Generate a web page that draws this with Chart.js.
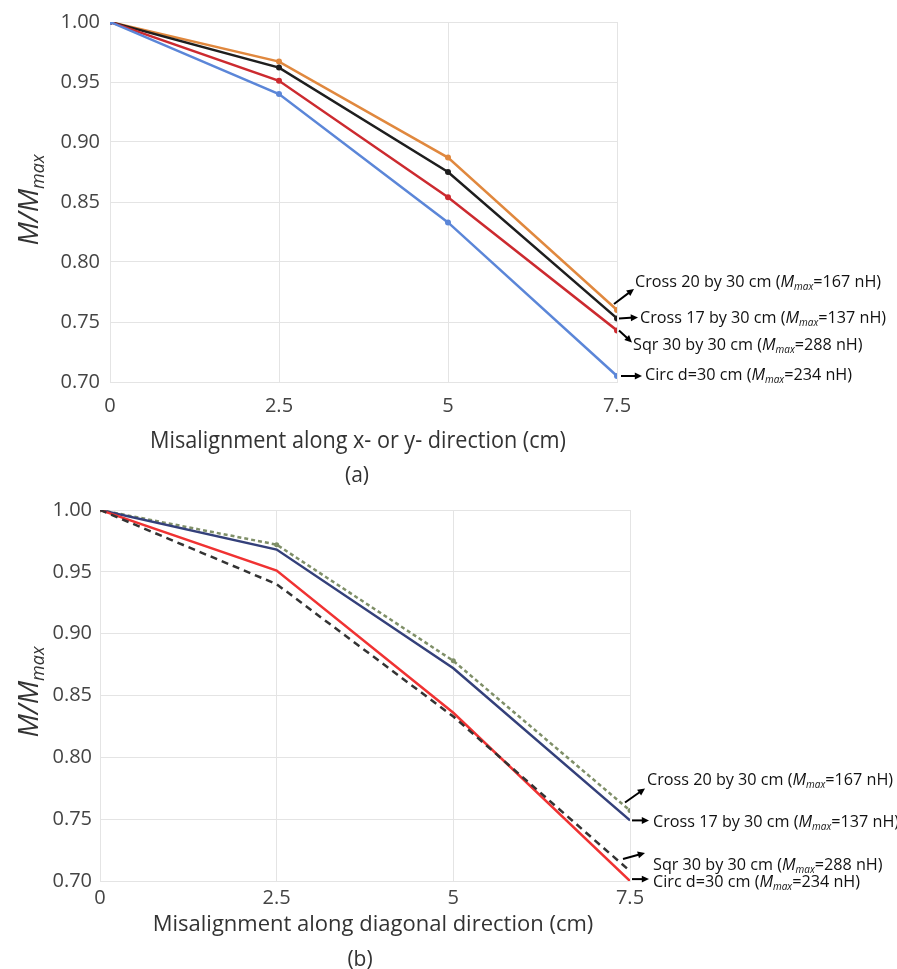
<!DOCTYPE html>
<html>
<head>
<meta charset="utf-8">
<script src="https://cdn.jsdelivr.net/npm/chart.js@4.4.0/dist/chart.umd.min.js"></script>
<style>
  html, body { margin: 0; padding: 0; background: #fff; }
  #wrapA { position: absolute; left: 0; top: 0; width: 897px; height: 490px; }
  #wrapB { position: absolute; left: 0; top: 490px; width: 897px; height: 479px; }
</style>
</head>
<body>
<div id="wrapA"><canvas id="graficoA" width="897" height="490"></canvas></div>
<div id="wrapB"><canvas id="graficoB" width="897" height="479"></canvas></div>
<script>
// ---------------- dados ----------------
const desalinhamento = [0, 2.5, 5, 7.5];
const yTicks = [0.70, 0.75, 0.80, 0.85, 0.90, 0.95, 1.00];

// (a) along x- or y- direction
const cross20A = [1.00, 0.967, 0.887, 0.760];
const cross17A = [1.00, 0.962, 0.875, 0.753];
const sqrA = [1.00, 0.951, 0.854, 0.743];
const circA = [1.00, 0.940, 0.833, 0.705];

// (b) along diagonal direction
const cross20B = [1.00, 0.972, 0.878, 0.757];
const cross17B = [1.00, 0.968, 0.872, 0.749];
const sqrB = [1.00, 0.951, 0.836, 0.700];
const circB = [1.00, 0.940, 0.833, 0.708];

const nomes = [
  ["Cross 20 by 30 cm (", "=167 nH)"],
  ["Cross 17 by 30 cm (", "=137 nH)"],
  ["Sqr 30 by 30 cm (", "=288 nH)"],
  ["Circ d=30 cm (", "=234 nH)"],
];

const FONT = "'Open Sans', 'DejaVu Sans', sans-serif";
const GRID = "#e4e4e4";

function pontos(arr) {
  return desalinhamento.map((x, i) => ({ x: x, y: arr[i] }));
}

// texto com M_max em itálico
function textoRico(ctx, partes, x, y, size) {
  ctx.save();
  ctx.translate(x, y);
  x = 0;
  ctx.textBaseline = "middle";
  ctx.textAlign = "left";
  ctx.fillStyle = "#111";
  ctx.font = `${size}px ${FONT}`;
  ctx.fillText(partes[0], x, 0);
  x += ctx.measureText(partes[0]).width;
  ctx.font = `italic ${size}px ${FONT}`;
  ctx.fillText("M", x, 0);
  x += ctx.measureText("M").width;
  ctx.font = `italic ${Math.round(size * 0.62)}px ${FONT}`;
  ctx.fillText("max", x, size * 0.3);
  x += ctx.measureText("max").width;
  ctx.font = `${size}px ${FONT}`;
  ctx.fillText(partes[1], x, 0);
  ctx.restore();
}

function seta(ctx, x1, y1, x2, y2) {
  const ang = Math.atan2(y2 - y1, x2 - x1);
  ctx.save();
  ctx.strokeStyle = "#000";
  ctx.fillStyle = "#000";
  ctx.lineWidth = 2;
  ctx.beginPath();
  ctx.moveTo(x1, y1);
  ctx.lineTo(x2 - 4 * Math.cos(ang), y2 - 4 * Math.sin(ang));
  ctx.stroke();
  ctx.beginPath();
  ctx.moveTo(x2, y2);
  ctx.lineTo(x2 - 8 * Math.cos(ang - 0.45), y2 - 8 * Math.sin(ang - 0.45));
  ctx.lineTo(x2 - 8 * Math.cos(ang + 0.45), y2 - 8 * Math.sin(ang + 0.45));
  ctx.closePath();
  ctx.fill();
  ctx.restore();
}

// plugin: titulos dos eixos, rotulos com setas
const anotacoes = {
  id: "anotacoes",
  afterDraw(chart, args, opts) {
    const ctx = chart.ctx;
    const xs = chart.scales.x;
    const ys = chart.scales.y;

    // titulo y
    ctx.save();
    ctx.translate(opts.yTitle.x, opts.yTitle.y);
    ctx.rotate(-Math.PI / 2);
    ctx.fillStyle = "#333";
    ctx.textBaseline = "middle";
    ctx.font = `italic 28px ${FONT}`;
    const w1 = ctx.measureText("M/M").width;
    ctx.font = `italic 18px ${FONT}`;
    const w2 = ctx.measureText("max").width;
    let sx = -(w1 + w2) / 2;
    ctx.font = `italic 28px ${FONT}`;
    ctx.fillText("M/M", sx, 0);
    ctx.font = `italic 18px ${FONT}`;
    ctx.fillText("max", sx + w1, 9);
    ctx.restore();

    // titulo x e letra
    ctx.save();
    ctx.fillStyle = "#333";
    ctx.textAlign = "center";
    ctx.textBaseline = "middle";
    ctx.font = `${opts.xTitle.size}px ${FONT}`;
    ctx.fillText(opts.xTitle.text, opts.xTitle.x, opts.xTitle.y, opts.xTitle.maxW);
    ctx.font = `21px ${FONT}`;
    ctx.fillText(opts.letra.text, opts.letra.x, opts.letra.y);
    ctx.restore();

    // rotulos
    opts.rotulos.forEach((r, i) => {
      const serie = chart.data.datasets[r.ds].data;
      const ult = serie[serie.length - 1];
      const px = xs.getPixelForValue(ult.x);
      const py = ys.getPixelForValue(ult.y);
      seta(ctx, px + r.a[0], py + r.a[1], px + r.a[2], py + r.a[3]);
      textoRico(ctx, nomes[i], r.tx, r.ty, 16.2);
    });
  },
};

function opcoesEixos(cfg) {
  return {
    x: {
      type: "linear",
      min: 0,
      max: 7.5,
      afterFit: (s) => { s.height = cfg.xHeight; },
      afterBuildTicks: (s) => { s.ticks = desalinhamento.map((v) => ({ value: v })); },
      grid: { color: GRID, drawTicks: false },
      border: { color: GRID },
      ticks: {
        padding: cfg.xPad,
        color: "#444",
        font: { family: FONT, size: 20 },
        callback: (v) => String(v),
      },
    },
    y: {
      min: 0.7,
      max: 1.0,
      afterFit: (s) => { s.width = cfg.yWidth; },
      afterBuildTicks: (s) => { s.ticks = yTicks.map((v) => ({ value: v })); },
      grid: { color: GRID, drawTicks: false },
      border: { display: false },
      ticks: {
        padding: cfg.yPad,
        color: "#444",
        font: { family: FONT, size: 20 },
        callback: (v) => Number(v).toFixed(2),
      },
    },
  };
}

function serie(label, arr, cor, extra) {
  return Object.assign({
    label: label,
    data: pontos(arr),
    borderColor: cor,
    backgroundColor: cor,
    borderWidth: 2.5,
    pointRadius: 3,
    pointBorderWidth: 0,
    tension: 0,
  }, extra || {});
}

// ---------------- grafico (a) ----------------
new Chart(document.getElementById("graficoA").getContext("2d"), {
  type: "line",
  data: {
    datasets: [
      serie("Circ", circA, "#5b86d8"),
      serie("Sqr", sqrA, "#cc2a2f"),
      serie("Cross 17", cross17A, "#1e1e1e"),
      serie("Cross 20", cross20A, "#e0883e"),
    ],
  },
  options: {
    responsive: false,
    animation: false,
    layout: { padding: { top: 18, right: 280, left: 0, bottom: 0 } },
    plugins: {
      legend: { display: false },
      tooltip: { enabled: false },
      anotacoes: {
        yTitle: { x: 30, y: 200 },
        xTitle: { text: "Misalignment along x- or y- direction (cm)", x: 358, y: 441, size: 24, maxW: 416 },
        letra: { text: "(a)", x: 357, y: 476 },
        rotulos: [
          { ds: 3, a: [-3, -6, 17, -21], tx: 635, ty: 282 },
          { ds: 2, a: [2, 0, 21, -1], tx: 640, ty: 318 },
          { ds: 1, a: [2, 0, 15, 12], tx: 633, ty: 345 },
          { ds: 0, a: [4, 0, 25, 0], tx: 645, ty: 375 },
        ],
      },
    },
    scales: opcoesEixos({ xHeight: 108, yWidth: 110, xPad: 12, yPad: 10 }),
  },
  plugins: [anotacoes],
});

// ---------------- grafico (b) ----------------
new Chart(document.getElementById("graficoB").getContext("2d"), {
  type: "line",
  data: {
    datasets: [
      serie("Circ", circB, "#333333", { borderDash: [7, 5], pointRadius: 0 }),
      serie("Sqr", sqrB, "#f03232", { pointRadius: 0 }),
      serie("Cross 17", cross17B, "#34407a", { pointRadius: 0 }),
      serie("Cross 20", cross20B, "#7f8f68", { borderDash: [4, 3], pointRadius: 2.5 }),
    ],
  },
  options: {
    responsive: false,
    animation: false,
    layout: { padding: { top: 15, right: 267, left: 0, bottom: 0 } },
    plugins: {
      legend: { display: false },
      tooltip: { enabled: false },
      anotacoes: {
        yTitle: { x: 30, y: 202 },
        xTitle: { text: "Misalignment along diagonal direction (cm)", x: 373, y: 435, size: 22, maxW: 448 },
        letra: { text: "(b)", x: 360, y: 470 },
        rotulos: [
          { ds: 3, a: [-5, -8, 15, -22], tx: 647, ty: 290 },
          { ds: 2, a: [2, 0, 19, 0], tx: 653, ty: 332 },
          { ds: 1, a: [-7, -22, 15, -28], tx: 653, ty: 375 },
          { ds: 0, a: [2, 8, 19, 8], tx: 653, ty: 392 },
        ],
      },
    },
    scales: opcoesEixos({ xHeight: 88, yWidth: 100, xPad: 5, yPad: 8 }),
  },
  plugins: [anotacoes],
});
</script>
</body>
</html>
